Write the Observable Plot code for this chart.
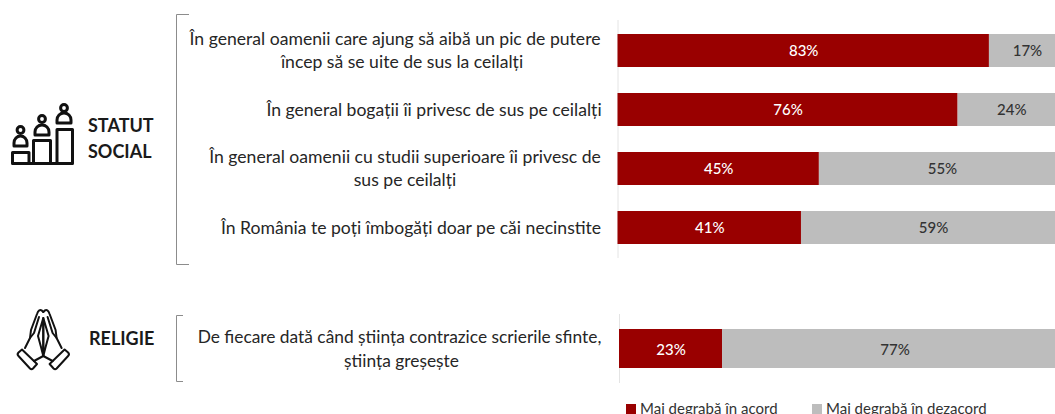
<!DOCTYPE html>
<html><head><meta charset="utf-8">
<script src="https://cdn.jsdelivr.net/npm/d3@7"></script>
<script src="https://cdn.jsdelivr.net/npm/@observablehq/plot@0.6"></script>
<style>
html,body{margin:0;padding:0;background:#fff}
#wrap{position:relative;width:1055px;height:414px;overflow:hidden;font-family:Lato,sans-serif}
#wrap>svg,#wrap>div{position:absolute}
#wrap svg{overflow:hidden;background:transparent}
.lg{top:399px;font-size:15px;color:#333;white-space:nowrap;line-height:18px}
.lg i{display:inline-block;width:10px;height:10px;margin-right:4px}
</style></head><body><div id="wrap"></div>
<script>
const questionsSocial = [
  ["În general oamenii care ajung să aibă un pic de putere","încep să se uite de sus la ceilalți"],
  ["În general bogații îi privesc de sus pe ceilalți"],
  ["În general oamenii cu studii superioare îi privesc de","sus pe ceilalți"],
  ["În România te poți îmbogăți doar pe căi necinstite"]
];
const agreeSocial = [83,76,45,41];
const disagreeSocial = [17,24,55,59];
const questionsReligion = [["De fiecare dată când știința contrazice scrierile sfinte,","știința greșește"]];
const agreeReligion = [23];
const disagreeReligion = [77];
const seriesNames = ["Mai degrabă în acord","Mai degrabă în dezacord"];
const seriesColors = ["#990000","#BDBDBD"];
const labelColors = ["#ffffff","#333333"];

function longForm(questions, a, b){
  return questions.flatMap((q,i)=>[
    {q:q.join(" "),series:seriesNames[0],value:a[i]},
    {q:q.join(" "),series:seriesNames[1],value:b[i]}
  ]);
}
function panel(questions,a,b,o){
  const rows=longForm(questions,a,b);
  const marks=[
    Plot.ruleX([0],{stroke:"#e4e4e4",strokeWidth:1}),
    Plot.barX(rows,Plot.stackX({x:"value",y:"q",fill:"series",order:null})),
    Plot.text(rows,Plot.stackX({x:"value",y:"q",z:"series",order:null,text:d=>d.value+"%",
      fill:d=>labelColors[seriesNames.indexOf(d.series)],fontSize:15,fontWeight:500,dy:o.labelDy}))
  ];
  questions.forEach((lines,i)=>{
    const n=lines.length;
    lines.forEach((line,j)=>{
      marks.push(Plot.text([line],{x:()=>0,y:()=>lines.join(" "),text:d=>d,
        dx:o.centers[i][j]-o.x0,dy:(j-(n-1)/2)*o.lead,
        textAnchor:"middle",fontSize:o.size,fill:"#262626"}));
    });
  });
  return Plot.plot({
    width:1055,height:o.height,marginTop:o.top,marginBottom:o.bottom,marginLeft:0,marginRight:0,
    style:{fontFamily:"Lato,sans-serif",background:"transparent"},
    x:{domain:[0,100],range:[o.x0,o.x1],axis:null},
    y:{domain:questions.map(q=>q.join(" ")),paddingInner:o.pad,paddingOuter:o.pad/2,axis:null},
    color:{domain:seriesNames,range:seriesColors},
    marks
  });
}
const wrap=document.getElementById("wrap");
const p1=panel(questionsSocial,agreeSocial,disagreeSocial,{height:280,top:20,bottom:22,x0:617.5,x1:1065,pad:.445,lead:22.5,size:17.6,labelDy:0,
  centers:[[394.5,401.5],[433.5],[404.5,404.5],[410.5]]});
p1.style.left="0";p1.style.top="0";wrap.append(p1);
const p2=panel(questionsReligion,agreeReligion,disagreeReligion,{height:134,top:34,bottom:31,x0:619,x1:1067,pad:.435,lead:24,size:17.35,labelDy:1,
  centers:[[399,401]]});
p2.style.left="0";p2.style.top="280px";wrap.append(p2);

const deco=document.createElementNS("http://www.w3.org/2000/svg","svg");
deco.setAttribute("width",1055);deco.setAttribute("height",414);deco.style.left="0";deco.style.top="0";
deco.innerHTML=`
<g fill="none" stroke="#8c8c8c" stroke-width="1">
<path d="M189 14.5H176.500V264.500H189"/><path d="M183 315.500H176.500V381.500H183"/></g>
<g font-family="Lato,sans-serif" font-weight="700" font-size="18" fill="#1a1a1a">
<text x="88" y="132">STATUT</text><text x="88" y="158">SOCIAL</text><text x="89" y="345">RELIGIE</text></g>
<g fill="none" stroke="#111" stroke-width="3" stroke-linejoin="round" stroke-linecap="round">
<path d="M12.500 163.500H72.500M12.500 163.500V152.500H29V163.500M33.500 163.500V140.500H50.500V163.500M57 163.500V129.500H72.500V163.500"/>
<circle cx="20.500" cy="130" r="3.4"/><path d="M14 146V143C14 139 17 136 20.500 136C24 136 27 139 27 143V146Z"/>
<circle cx="42" cy="119" r="3.4"/><path d="M35 135V132C35 128 38 125 42 125C46 125 49 128 49 132V135Z"/>
<circle cx="64" cy="108" r="3.4"/><path d="M57 123V120C57 116 60 113 64 113C68 113 71 116 71 120V123Z"/>
</g>
<g id="hand" fill="none" stroke="#111" stroke-width="2" stroke-linejoin="round" stroke-linecap="round">
<path d="M43.300 312C40 308 38 311 37 314L31 330L30 338L25 348"/>
<path d="M43.300 318L38 336L41 347L43.300 356V318"/>
<path d="M30 338L34 333L39 317"/>
<path d="M18.500 352.500L22 349.500L37 364L33 368.500C32 369.500 31 369.500 30 368.500L18.500 356C17.500 355 17.500 353.500 18.500 352.500Z"/>
<path d="M34 361L43.300 356"/>
</g>
<use href="#hand" transform="translate(86.6,0) scale(-1,1)"/>`;
wrap.append(deco);
[[626,seriesNames[0],seriesColors[0]],[812,seriesNames[1],seriesColors[1]]].forEach(([x,t,c])=>{
  const d=document.createElement("div");d.className="lg";d.style.left=x+"px";
  d.innerHTML=`<i style="background:${c}"></i>${t}`;wrap.append(d);
});
</script></body></html>
